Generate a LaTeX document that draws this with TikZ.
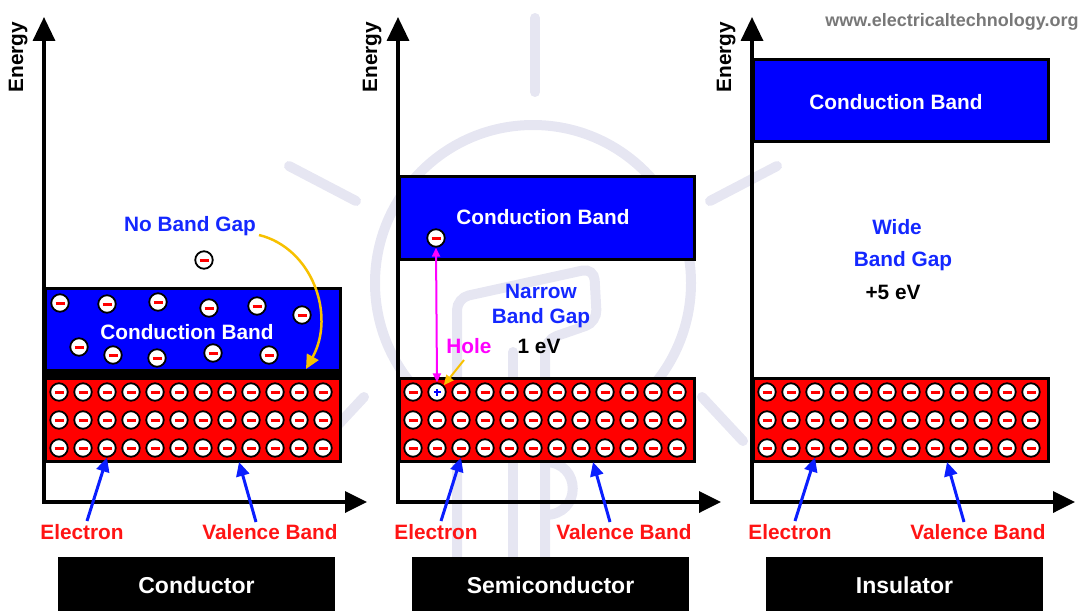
\documentclass[tikz,border=0pt]{standalone}
\usepackage{fontspec}
\setmainfont{Liberation Sans}
\usetikzlibrary{arrows.meta}
\definecolor{bandblue}{RGB}{0,0,255}
\definecolor{bandred}{RGB}{255,0,0}
\definecolor{txtblue}{RGB}{20,40,255}
\definecolor{txtred}{RGB}{255,20,20}
\definecolor{arrowblue}{RGB}{10,30,255}
\definecolor{gold}{RGB}{247,193,0}
\definecolor{wmcol}{RGB}{230,230,242}
\definecolor{urlgray}{RGB}{120,120,120}
\definecolor{pink}{RGB}{255,0,255}
\newcommand\elecmark{\color{bandred}\rule{9pt}{3pt}}
\begin{document}
\begin{tikzpicture}[x=1pt,y=-1pt,
  lbl/.style={font=\fontsize{20.8}{24}\selectfont\bfseries, inner sep=0pt, outer sep=0pt, anchor=base},
  elec/.style={circle, draw=black, line width=1.8pt, fill=white, minimum size=17.5pt, inner sep=0pt},
  holeel/.style={circle, draw=black, line width=1.8pt, fill=white, minimum size=17.5pt, inner sep=0pt,
    path picture={\draw[bandblue, line width=2pt] ([xshift=-3.5pt]path picture bounding box.center) -- ([xshift=3.5pt]path picture bounding box.center);
      \draw[bandblue, line width=2pt] ([yshift=-3.5pt]path picture bounding box.center) -- ([yshift=3.5pt]path picture bounding box.center);}},
  axisline/.style={line width=3.5pt, {Triangle[length=24pt,width=22pt]}-{Triangle[length=22pt,width=21pt]}},
  band/.style={draw=black, line width=3pt, inner sep=0pt, outer sep=0pt, minimum width=295pt, anchor=north west},
  barrow/.style={draw=arrowblue, line width=3pt, -{Triangle[length=14pt,width=13pt]}},
  yarrow/.style={draw=gold, line width=2.5pt, -{Triangle[length=14pt,width=13pt]}},
  marrow/.style={draw=pink, line width=2pt, {Triangle[length=9pt,width=8pt]}-{Triangle[length=9pt,width=8pt]}},
  wm/.style={draw=wmcol, line width=10pt, line cap=round},
  namebox/.style={fill=black, minimum width=277pt, minimum height=56pt, anchor=north west, inner sep=0pt, outer sep=0pt,
    text=white, font=\fontsize{23}{26}\selectfont\bfseries}
]
\useasboundingbox (0,0) rectangle (1083,610);

% watermark
\draw[wm] (533,283) circle[radius=158];
\draw[wm] (535,18) -- (535,92);
\draw[wm] (289,166) -- (356,201);
\draw[wm] (777,166) -- (710,201);
\draw[wm] (364,397) -- (323,441);
\draw[wm] (702,397) -- (743,441);
\draw[wm, rounded corners=12pt] (457,560) -- (457,298) -- (594,268) -- (597,322) -- (545,340) -- (545,560);
\draw[wm] (513,352) -- (513,560);
\draw[wm] (545,462) .. controls (582,462) and (582,515) .. (545,515);

\node[font=\fontsize{18}{20}\selectfont\bfseries, text=urlgray, inner sep=0pt, anchor=base] (url) at (952,27) {www.electricaltechnology.org};

% black strip between conductor bands
\fill[black] (44,369) rectangle (342,380);

% common panel parts
\foreach \ax/\p/\name in {44/c/Conductor,398/s/Semiconductor,752/i/Insulator} {
  \coordinate (\p O) at (\ax,502);
  \coordinate (\p Y) at (\ax,17);
  \coordinate (\p X) at (\ax+323,502);
  \draw[axisline] (\p Y) -- (\p O) -- (\p X);
  \node[lbl, rotate=90] (\p E) at (\ax-21,57) {Energy};
  \node[band, fill=bandred, minimum height=83pt] (\p val) at (\ax+1.5,378.5) {};
  \node[lbl, text=txtred] (\p el) at (\ax+38,539) {Electron};
  \node[lbl, text=txtred] (\p vl) at (\ax+226,539) {Valence Band};
  \coordinate (\p ea) at (\ax+43,521);
  \coordinate (\p va) at (\ax+212,522);
  \coordinate (\p vt) at (\ax+195,462);
  \node[namebox] (\p box) at (\ax+14,557) {\name};
}

% conduction bands
\node[band, fill=bandblue, minimum height=82pt] (ccb) at (45.5,288.5) {};
\node[band, fill=bandblue, minimum height=83pt] (scb) at (399.5,176.5) {};
\node[band, fill=bandblue, minimum height=82pt] (icb) at (753.5,59.5) {};

% valence electrons
\foreach \ax/\p in {44/c,752/i}
  \foreach \y/\r in {392/1,420/2,448/3}
    \foreach \c in {0,...,11}
      \node[elec] (\p v\r-\c) at (\ax+15+24*\c,\y) {\elecmark};
\foreach \y/\r in {420/2,448/3}
  \foreach \c in {0,...,11}
    \node[elec] (sv\r-\c) at (413+24*\c,\y) {\elecmark};
\foreach \c in {0,2,3,...,11}
  \node[elec] (sv1-\c) at (413+24*\c,392) {\elecmark};
\node[holeel] (sv1-1) at (437,392) {};

% pointer arrows
\foreach \p in {c,s,i} {
  \draw[barrow] (\p ea) -- (\p v3-2.south);
  \draw[barrow] (\p va) -- (\p vt);
}

% conductor details
\foreach \x/\y [count=\k] in {60/303,107/304,158/302,209/308,257/306,302/315,79/347,113/355,157/358,213/353,269/355}
  \node[elec] (cce\k) at (\x,\y) {\elecmark};
\node[lbl, text=white] (ccbt) at (187,339) {Conduction Band};
\node[lbl, text=txtblue] (nbg) at (190,231) {No Band Gap};
\node[elec] (cfree) at (204,260) {\elecmark};
\coordinate (yt) at (259,235);
\coordinate (yh) at (306,369);
\draw[yarrow] (yt) .. controls (312,248) and (336,315) .. (yh);

% semiconductor details
\node[lbl, text=white] (scbt) at (543,224) {Conduction Band};
\node[elec] (scbe) at (436,238) {\elecmark};
\draw[marrow] (scbe.south) -- (sv1-1.north);
\node[lbl, text=txtblue] (snar) at (541,298) {Narrow};
\node[lbl, text=txtblue] (sbg) at (541,323) {Band Gap};
\node[lbl, text=pink] (shole) at (469,353) {Hole};
\node[lbl, text=black] (sev) at (539,353) {1 eV};
\coordinate (ht) at (464,360);
\draw[draw=gold, line width=2pt, -{Triangle[length=10pt,width=9pt]}] (ht) -- (sv1-1.north east);

% insulator details
\node[lbl, text=white] (icbt) at (896,109) {Conduction Band};
\node[lbl, text=txtblue] (iwide) at (897,234) {Wide};
\node[lbl, text=txtblue] (ibg) at (903,266) {Band Gap};
\node[lbl, text=black] (iev) at (893,299) {+5 eV};
\end{tikzpicture}
\end{document}
